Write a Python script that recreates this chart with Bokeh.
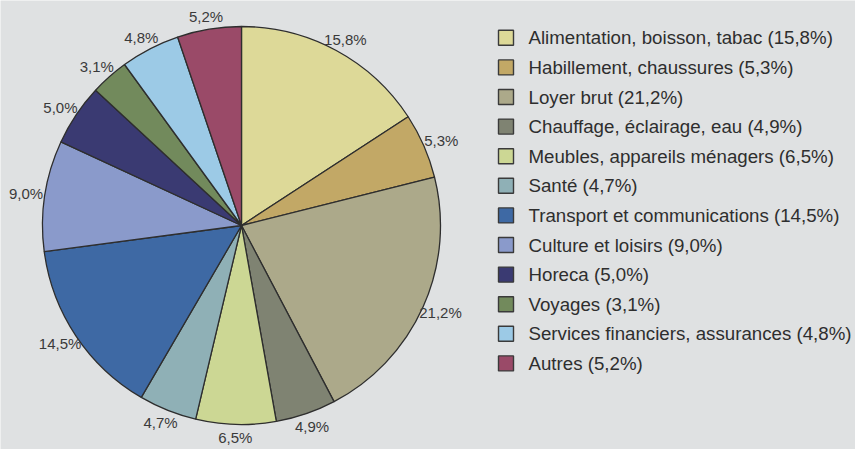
import math
from bokeh.plotting import figure
from bokeh.models import Range1d, ColumnDataSource
from bokeh.core.properties import value
from bokeh.embed import file_html
from bokeh.resources import INLINE

categories = [
    "Alimentation, boisson, tabac",
    "Habillement, chaussures",
    "Loyer brut",
    "Chauffage, éclairage, eau",
    "Meubles, appareils ménagers",
    "Santé",
    "Transport et communications",
    "Culture et loisirs",
    "Horeca",
    "Voyages",
    "Services financiers, assurances",
    "Autres",
]
shares = [15.8, 5.3, 21.2, 4.9, 6.5, 4.7, 14.5, 9.0, 5.0, 3.1, 4.8, 5.2]
colors = [
    "#ddd998", "#c2a866", "#aca98a", "#7f8372", "#ccd794", "#8fb0b6",
    "#3e69a4", "#8a9acb", "#3a3a72", "#728a5c", "#9ccae6", "#9a4a68",
]

BG = "#dfe1e2"
FONT = "Liberation Sans"

def fmt(v):
    return f"{v:.1f}".replace(".", ",") + "%"

W, H = 855, 449
p = figure(width=W, height=H, output_backend="svg", toolbar_location=None,
           x_range=Range1d(0, W), y_range=Range1d(-H, 0),
           x_axis_type=None, y_axis_type=None, min_border=0,
           background_fill_color=BG, border_fill_color=BG,
           outline_line_color=None)
p.xgrid.visible = False
p.ygrid.visible = False

cx, cy, R = 241, -225, 199
total = sum(shares)
starts, ends, lx, ly, labels = [], [], [], [], []
cum = 0.0
for v in shares:
    a0 = cum / total
    cum += v
    a1 = cum / total
    starts.append(math.pi / 2 - 2 * math.pi * a0)
    ends.append(math.pi / 2 - 2 * math.pi * a1)
    mid = 2 * math.pi * (a0 + a1) / 2
    lx.append(cx + 218 * math.sin(mid))
    ly.append(cy + 212 * math.cos(mid))
    labels.append(fmt(v))

src = ColumnDataSource(dict(start=starts, end=ends, color=colors))
p.wedge(x=cx, y=cy, radius=R, start_angle="start", end_angle="end",
        direction="clock", fill_color="color", line_color="#2e2e2e",
        line_width=1.3, source=src)

p.text(x=lx, y=ly, text=labels, text_font=value(FONT), text_font_size="15px",
       text_color="#3a3a3a", text_align="center", text_baseline="middle")

# legend
ly0, step = 37.3, 29.6
leg_y = [-(ly0 + i * step) for i in range(len(categories))]
p.rect(x=[505.5] * len(categories), y=leg_y, width=15, height=15,
       fill_color=colors, line_color="#3a3a3a", line_width=1.4)
leg_text = [f"{c} ({fmt(v)})" for c, v in zip(categories, shares)]
p.text(x=[528] * len(categories), y=leg_y, text=leg_text,
       text_font=value(FONT), text_font_size="18.7px", text_color="#2e2e2e",
       text_align="left", text_baseline="middle")

open("out.html", "w").write(file_html(p, INLINE))
